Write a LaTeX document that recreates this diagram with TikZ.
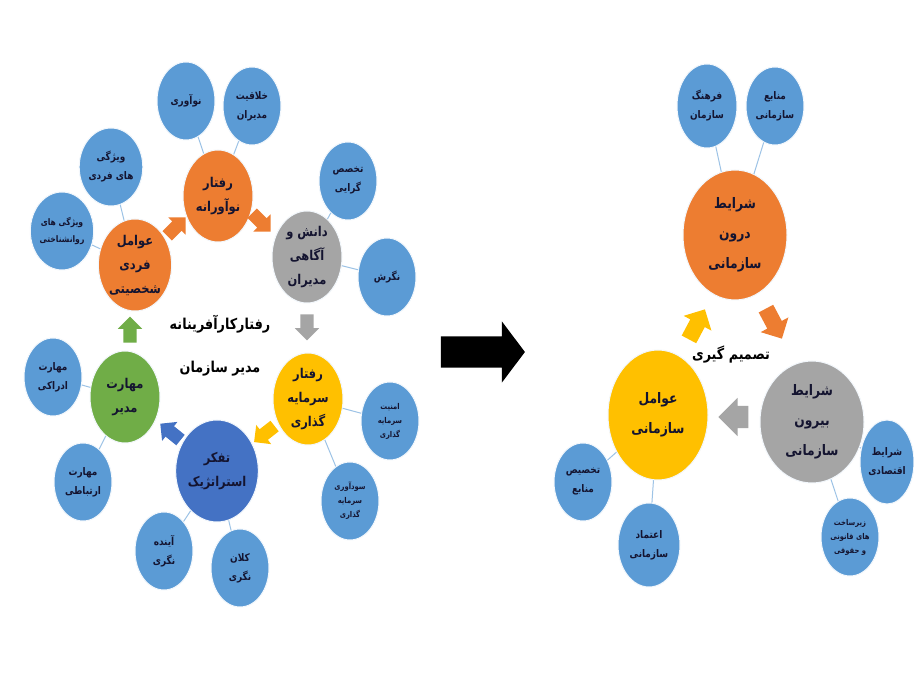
\documentclass[tikz,border=0pt]{standalone}
\usepackage{fontspec}
\newfontfamily\arabicfont[Script=Arabic,FakeStretch=0.85]{DejaVu Sans}
\TeXXeTstate=1
\usetikzlibrary{shapes.geometric,shapes.arrows}
\definecolor{cblue}{HTML}{5B9BD5}
\definecolor{corange}{HTML}{ED7D31}
\definecolor{cgray}{HTML}{A5A5A5}
\definecolor{cyellow}{HTML}{FFC000}
\definecolor{cdblue}{HTML}{4472C4}
\definecolor{cgreen}{HTML}{70AD47}
\definecolor{cline}{HTML}{9DC3E6}
\definecolor{ctext}{HTML}{141430}
\newcommand{\ptxt}[1]{\beginR #1\endR}
\begin{document}
\begin{tikzpicture}[x=1pt,y=-1pt,
  bub/.style={ellipse, draw=white!92!cblue, line width=1pt, inner sep=0pt, align=center, text=ctext},
  sm/.style={bub, fill=cblue, minimum width=58, minimum height=78, font=\arabicfont\bfseries\fontsize{10.5}{19}\selectfont},
  tiny/.style={sm, font=\arabicfont\bfseries\fontsize{8}{14}\selectfont},
  big/.style={bub, fill=#1, minimum width=70, minimum height=92, font=\arabicfont\bfseries\fontsize{13.5}{24}\selectfont},
  bigR/.style={bub, fill=#1, minimum width=104, minimum height=130, font=\arabicfont\bfseries\fontsize{14.5}{30}\selectfont},
  conn/.style={draw=cline, line width=1pt},
  blk/.style={single arrow, fill=#1, draw=none, minimum height=26, minimum width=24, single arrow head extend=5.5, inner xsep=0pt, inner ysep=6.5pt},
  lbl/.style={align=center, text=black, font=\arabicfont\bfseries\fontsize{15}{43}\selectfont}
]
\useasboundingbox[fill=white] (0,0) rectangle (914,684);

% ---------- left cluster ----------
\node[big=corange] (nav) at (218,196) {\ptxt{رفتار}\\\ptxt{نوآورانه}};
\node[sm] (no) at (186,101) {\ptxt{نوآوری}};
\node[sm] (kh) at (252,106) {\ptxt{خلاقیت}\\\ptxt{مدیران}};
\node[sm] (vf) at (111,167) {\ptxt{ویژگی}\\\ptxt{های فردی}};
\node[sm, font=\arabicfont\bfseries\fontsize{9}{17}\selectfont] (vr) at (62,231) {\ptxt{ویژگی های}\\\ptxt{روانشناختی}};
\node[big=corange] (af) at (135,265) {\ptxt{عوامل}\\\ptxt{فردی}\\\ptxt{شخصیتی}};
\node[big=cgray] (da) at (307,257) {\ptxt{دانش و}\\\ptxt{آگاهی}\\\ptxt{مدیران}};
\node[sm] (tk) at (348,181) {\ptxt{تخصص}\\\ptxt{گرایی}};
\node[sm] (ng) at (387,277) {\ptxt{نگرش}};
\node[lbl] (title) at (220,346) {\ptxt{رفتارکارآفرینانه}\\\ptxt{مدیر سازمان}};
\node[big=cyellow] (rs) at (308,399) {\ptxt{رفتار}\\\ptxt{سرمایه}\\\ptxt{گذاری}};
\node[tiny] (am) at (390,421) {\ptxt{امنیت}\\\ptxt{سرمایه}\\\ptxt{گذاری}};
\node[tiny] (so) at (350,501) {\ptxt{سودآوری}\\\ptxt{سرمایه}\\\ptxt{گذاری}};
\node[big=cdblue, minimum width=78, minimum height=102] (tf) at (217,471) {\ptxt{تفکر}\\\ptxt{استراتژیک}};
\node[sm] (ay) at (164,551) {\ptxt{آینده}\\\ptxt{نگری}};
\node[sm] (kl) at (240,568) {\ptxt{کلان}\\\ptxt{نگری}};
\node[big=cgreen] (mm) at (125,397) {\ptxt{مهارت}\\\ptxt{مدیر}};
\node[sm] (me) at (53,377) {\ptxt{مهارت}\\\ptxt{ادراکی}};
\node[sm] (mr) at (83,482) {\ptxt{مهارت}\\\ptxt{ارتباطی}};

\draw[conn] (nav) -- (no);
\draw[conn] (nav) -- (kh);
\draw[conn] (af) -- (vf);
\draw[conn] (af) -- (vr);
\draw[conn] (da) -- (tk);
\draw[conn] (da) -- (ng);
\draw[conn] (rs) -- (am);
\draw[conn] (rs) -- (so);
\draw[conn] (tf) -- (ay);
\draw[conn] (tf) -- (kl);
\draw[conn] (mm) -- (me);
\draw[conn] (mm) -- (mr);

\node[blk=corange, rotate=45] (a1) at (174,229) {};
\node[blk=corange, rotate=-45] (a2) at (259,220) {};
\node[blk=cgray, rotate=-90] (a3) at (307,324) {};
\node[blk=cyellow, rotate=-142] (a4) at (267,432) {};
\node[blk=cdblue, rotate=141] (a5) at (173,434) {};
\node[blk=cgreen, rotate=90] (a6) at (130,333) {};

% ---------- big arrow ----------
\node[single arrow, fill=black, draw=none, minimum height=84, minimum width=61, single arrow head extend=15, single arrow tip angle=106, inner xsep=0pt, inner ysep=15.5pt] (big) at (477,352) {};

% ---------- right cluster ----------
\node[bigR=corange] (dr) at (735,235) {\ptxt{شرایط}\\\ptxt{درون}\\\ptxt{سازمانی}};
\node[sm, minimum width=60, minimum height=84] (fa) at (707,106) {\ptxt{فرهنگ}\\\ptxt{سازمان}};
\node[sm] (mn) at (775,106) {\ptxt{منابع}\\\ptxt{سازمانی}};
\node[bigR=cgray, minimum height=122] (br) at (812,422) {\ptxt{شرایط}\\\ptxt{بیرون}\\\ptxt{سازمانی}};
\node[bigR=cyellow, minimum width=100] (os) at (658,415) {\ptxt{عوامل}\\\ptxt{سازمانی}};
\node[sm, minimum width=54, minimum height=84] (eq) at (887,462) {\ptxt{شرایط}\\\ptxt{اقتصادی}};
\node[tiny] (zir) at (850,537) {\ptxt{زیرساخت}\\\ptxt{های قانونی}\\\ptxt{و حقوقی}};
\node[sm] (tkm) at (583,482) {\ptxt{تخصیص}\\\ptxt{منابع}};
\node[sm, minimum width=62, minimum height=84] (et) at (649,545) {\ptxt{اعتماد}\\\ptxt{سازمانی}};
\node[lbl] (tasmim) at (731,355) {\ptxt{تصمیم گیری}};

\draw[conn] (dr) -- (fa);
\draw[conn] (dr) -- (mn);
\draw[conn] (br) -- (eq);
\draw[conn] (br) -- (zir);
\draw[conn] (os) -- (tkm);
\draw[conn] (os) -- (et);

\node[blk=cyellow, minimum height=34, minimum width=31, single arrow head extend=7.5, inner ysep=8pt, rotate=62] (b1) at (695,328) {};
\node[blk=corange, minimum height=34, minimum width=31, single arrow head extend=7.5, inner ysep=8pt, rotate=-62] (b2) at (772,320) {};
\node[blk=cgray, minimum height=30, minimum width=38, single arrow head extend=8, inner ysep=11pt, rotate=180] (b3) at (739,417) {};
\end{tikzpicture}
\end{document}
